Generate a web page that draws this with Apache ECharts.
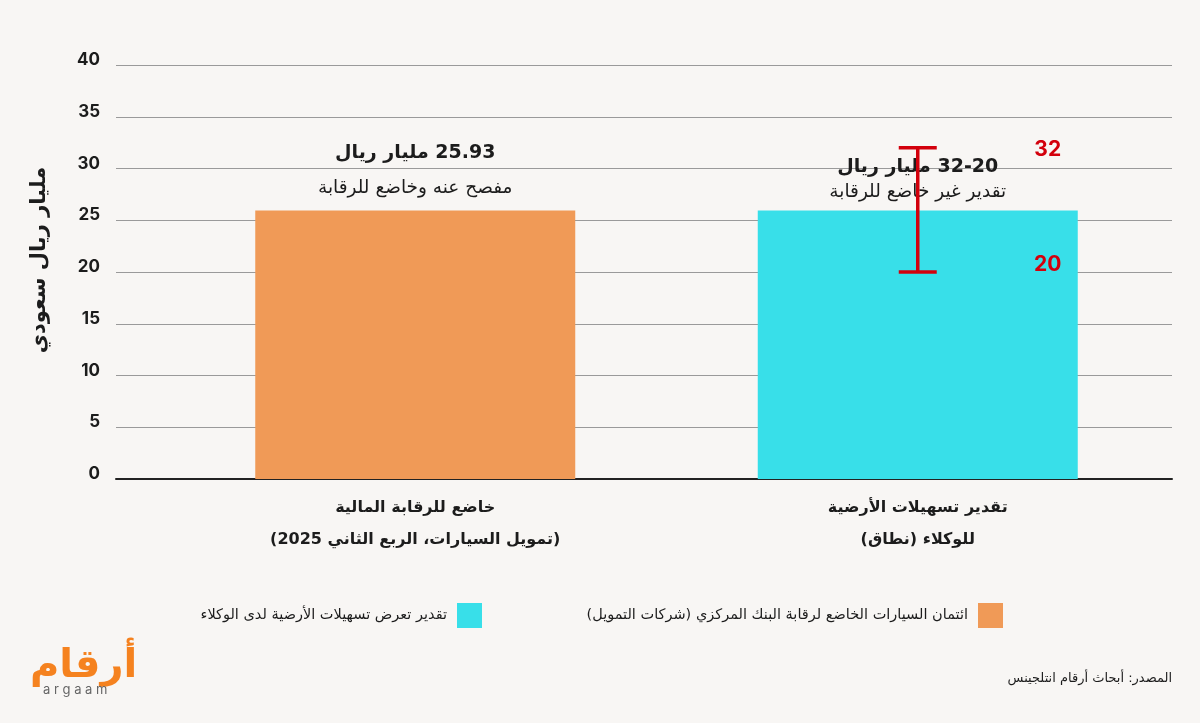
<!DOCTYPE html>
<html>
<head>
<meta charset="utf-8">
<script src="https://cdn.jsdelivr.net/npm/echarts@6/dist/echarts.min.js"></script>
<style>
  html, body { margin: 0; padding: 0; background: #f8f6f4; }
  #chart { width: 1200px; height: 723px; direction: rtl; }
</style>
</head>
<body>
<div id="chart"></div>
<script>
// data
let categories = ['خاضع للرقابة المالية\n(تمويل السيارات، الربع الثاني 2025)', 'تقدير تسهيلات الأرضية\nللوكلاء (نطاق)'];
let seriesNames = ['ائتمان السيارات الخاضع لرقابة البنك المركزي (شركات التمويل)', 'تقدير تعرض تسهيلات الأرضية لدى الوكلاء'];
let regulatedValues = [25.93, '-'];
let estimateValues = ['-', 25.93];
let rangeLow = [20];
let rangeHigh = [32];
let barTitles = ['25.93 مليار ريال', '32-20 مليار ريال'];
let barNotes = ['مفصح عنه وخاضع للرقابة', 'تقدير غير خاضع للرقابة'];
let yTicks = [0, 5, 10, 15, 20, 25, 30, 35, 40];

let colorOrange = '#F09A57';
let colorCyan = '#38DFE9';
let colorRed = '#D3000C';
let textColor = '#1c1c1c';
let arFont = "'DejaVu Sans', sans-serif";
let numFont = "Inter, 'DejaVu Sans', sans-serif";

let errData = rangeLow.map(function (d, i) { return [1, rangeLow[i], rangeHigh[i]]; });

let myChart = echarts.init(document.getElementById('chart'));
let option = {
    backgroundColor: '#f8f6f4',
    animation: false,
    grid: [
        {left: 116, right: 28, top: 65, bottom: 244},
        {left: 164, right: 31, top: 65, bottom: 244}
    ],
    xAxis: [
        {
            gridIndex: 0,
            type: 'category',
            data: [''],
            axisTick: {show: false},
            axisLabel: {show: false},
            axisLine: {show: true, lineStyle: {color: '#222', width: 2}}
        },
        {
            gridIndex: 1,
            type: 'category',
            data: categories,
            axisTick: {show: false},
            axisLine: {show: false},
            axisLabel: {
                color: textColor,
                fontFamily: arFont,
                fontWeight: 'bold',
                fontSize: 16,
                lineHeight: 32,
                margin: 13,
                interval: 0
            }
        }
    ],
    yAxis: [
        {
            gridIndex: 0,
            type: 'value',
            min: yTicks[0],
            max: yTicks[yTicks.length - 1],
            interval: 5,
            axisLine: {show: false},
            axisTick: {show: false},
            axisLabel: {
                color: textColor,
                fontFamily: numFont,
                fontWeight: 'bold',
                fontSize: 17,
                margin: 16,
                verticalAlign: 'bottom',
                lineHeight: 10
            },
            splitLine: {lineStyle: {color: '#9a9a9a', width: 1}}
        },
        {
            gridIndex: 1,
            type: 'value',
            min: yTicks[0],
            max: yTicks[yTicks.length - 1],
            interval: 5,
            show: false,
            splitLine: {show: false}
        }
    ],
    legend: [
        {
            data: [seriesNames[0]],
            right: 192,
            top: 598,
            icon: 'rect',
            itemWidth: 25,
            itemHeight: 25,
            align: 'right',
            textStyle: {color: textColor, fontFamily: arFont, fontSize: 14.5, padding: [0, 5, 0, 0]}
        },
        {
            data: [seriesNames[1]],
            right: 713,
            top: 598,
            icon: 'rect',
            itemWidth: 25,
            itemHeight: 25,
            align: 'right',
            textStyle: {color: textColor, fontFamily: arFont, fontSize: 14.5, padding: [0, 5, 0, 0]}
        }
    ],
    series: [
        {
            name: seriesNames[0],
            type: 'bar',
            xAxisIndex: 1,
            yAxisIndex: 1,
            data: regulatedValues,
            barWidth: 320,
            barGap: '-100%',
            itemStyle: {color: colorOrange},
            label: {
                show: true,
                position: 'top',
                distance: 5,
                formatter: '{a|' + barTitles[0] + '}\n{b|' + barNotes[0] + '}',
                rich: {
                    a: {fontFamily: arFont, fontWeight: 'bold', fontSize: 19, color: textColor, lineHeight: 35},
                    b: {fontFamily: arFont, fontSize: 18.5, color: textColor, lineHeight: 35}
                }
            }
        },
        {
            name: seriesNames[1],
            type: 'bar',
            xAxisIndex: 1,
            yAxisIndex: 1,
            data: estimateValues,
            barWidth: 320,
            barGap: '-100%',
            itemStyle: {color: colorCyan},
            label: {
                show: true,
                position: 'top',
                distance: 5,
                formatter: '{a|' + barTitles[1] + '}\n{b|' + barNotes[1] + '}',
                rich: {
                    a: {fontFamily: arFont, fontWeight: 'bold', fontSize: 19, color: textColor, lineHeight: 26},
                    b: {fontFamily: arFont, fontSize: 18.5, color: textColor, lineHeight: 26}
                }
            }
        },
        {
            type: 'custom',
            xAxisIndex: 1,
            yAxisIndex: 1,
            z: 10,
            data: errData,
            encode: {x: 0, y: [1, 2]},
            renderItem: function (params, api) {
                let low = api.coord([api.value(0), api.value(1)]);
                let high = api.coord([api.value(0), api.value(2)]);
                let cx = low[0];
                let cap = 19;
                let ls = {stroke: colorRed, lineWidth: 3.5};
                return {
                    type: 'group',
                    children: [
                        {type: 'line', shape: {x1: cx, y1: high[1], x2: cx, y2: low[1]}, style: ls},
                        {type: 'line', shape: {x1: cx - cap, y1: high[1], x2: cx + cap, y2: high[1]}, style: ls},
                        {type: 'line', shape: {x1: cx - cap, y1: low[1], x2: cx + cap, y2: low[1]}, style: ls},
                        {type: 'text', x: cx + 130, y: high[1] + 2, style: {
                            text: String(api.value(2)), fill: colorRed, fontFamily: numFont,
                            fontWeight: 'bold', fontSize: 21, align: 'center', verticalAlign: 'middle'}},
                        {type: 'text', x: cx + 130, y: low[1] - 7, style: {
                            text: String(api.value(1)), fill: colorRed, fontFamily: numFont,
                            fontWeight: 'bold', fontSize: 21, align: 'center', verticalAlign: 'middle'}}
                    ]
                };
            }
        }
    ],
    graphic: [
        {
            type: 'text',
            x: 40,
            y: 260,
            rotation: Math.PI / 2,
            style: {
                text: 'مليار ريال سعودي',
                fill: textColor,
                fontFamily: arFont,
                fontWeight: 'bold',
                fontSize: 21,
                align: 'center',
                verticalAlign: 'middle'
            }
        },
        {
            type: 'text',
            right: 28,
            top: 672,
            style: {
                text: 'المصدر: أبحاث أرقام انتلجينس',
                fill: textColor,
                fontFamily: arFont,
                fontSize: 13
            }
        },
        {
            type: 'text',
            left: 30,
            top: 647,
            style: {
                text: 'أرقام',
                fill: '#F5821F',
                fontFamily: arFont,
                fontWeight: 'bold',
                fontSize: 40
            }
        },
        {
            type: 'text',
            left: 43,
            top: 684,
            style: {
                text: 'a r g a a m',
                fill: '#666',
                fontFamily: numFont,
                fontSize: 13
            }
        }
    ]
};
myChart.setOption(option);
</script>
</body>
</html>
